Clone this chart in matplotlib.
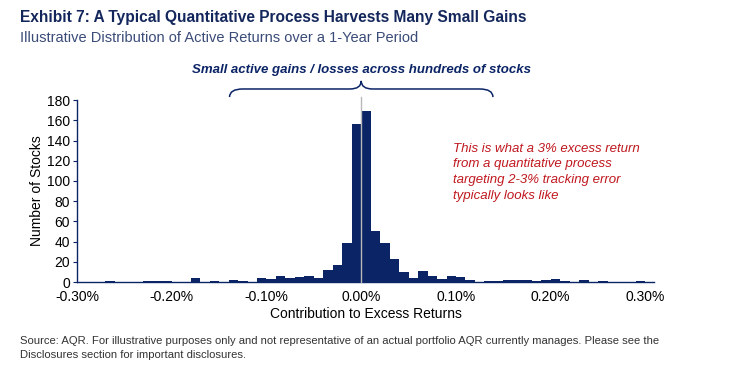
import numpy as np
import matplotlib
matplotlib.use("Agg")
import matplotlib.pyplot as plt
from matplotlib.path import Path
from matplotlib.patches import PathPatch

# histogram bins: 0.01% wide, from -0.30% to 0.30%
bin_width = 0.01
bin_left = np.round(np.arange(-0.30, 0.30, bin_width), 2)

counts_neg = [0, 0, 0, 1, 0, 0, 0, 1, 1, 1,
              0, 0, 4, 0, 1, 0, 2, 1, 0, 4,
              3, 6, 4, 5, 6, 4, 12, 17, 39, 156]
counts_pos = [169, 50, 39, 23, 10, 4, 11, 6, 3, 6,
              5, 2, 0, 1, 1, 2, 2, 2, 1, 2,
              3, 1, 0, 2, 0, 1, 0, 0, 0, 1]
counts = counts_neg + counts_pos

x_ticks = [-0.30, -0.20, -0.10, 0.00, 0.10, 0.20, 0.30]
y_ticks = list(range(0, 181, 20))

navy = '#0b2466'
title_col = '#14275c'
sub_col = '#3a4b78'
red = '#c0181f'

plt.rcParams['font.family'] = ['Liberation Sans', 'DejaVu Sans']

fig = plt.figure(figsize=(7.36, 3.66), dpi=100)
ax = fig.add_axes([0.1046, 0.2295, 0.784, 0.497])

ax.bar(bin_left, counts, width=bin_width, align='edge', color=navy, linewidth=0)
ax.plot([0, 0], [0, 183], color='#b8b8b8', lw=1, clip_on=False, zorder=3)

ax.set_xlim(-0.30, 0.309)
ax.set_ylim(0, 180)
ax.set_xticks(x_ticks)
ax.set_xticklabels(['{:.2f}%'.format(v) for v in x_ticks])
ax.set_yticks(y_ticks)
ax.tick_params(axis='x', length=0, labelsize=10, pad=6)
ax.tick_params(axis='y', length=3, color=navy, labelsize=10, pad=2)
for s in ['top', 'right']:
    ax.spines[s].set_visible(False)
for s in ['left', 'bottom']:
    ax.spines[s].set_color(navy)
    ax.spines[s].set_linewidth(1)

ax.set_xlabel('Contribution to Excess Returns', fontsize=10, labelpad=2)
ax.set_ylabel('Number of Stocks', fontsize=10, labelpad=2)

# curly brace over the centre of the distribution
verts = [(-0.139, 183), (-0.139, 191), (-0.125, 191),
         (-0.012, 191), (0.0, 191), (0.0, 199),
         (0.0, 191), (0.012, 191),
         (0.125, 191), (0.139, 191), (0.139, 183)]
codes = [Path.MOVETO, Path.CURVE3, Path.CURVE3,
         Path.LINETO, Path.CURVE3, Path.CURVE3,
         Path.CURVE3, Path.CURVE3,
         Path.LINETO, Path.CURVE3, Path.CURVE3]
ax.add_patch(PathPatch(Path(verts, codes), facecolor='none', edgecolor=navy,
                       lw=1.1, clip_on=False))
ax.text(0.0, 210, 'Small active gains / losses across hundreds of stocks',
        ha='center', va='center', fontsize=9.55, fontweight='bold',
        fontstyle='italic', color=navy, clip_on=False)

ax.text(0.097, 138, 'This is what a 3% excess return\nfrom a quantitative process\n'
        'targeting 2-3% tracking error\ntypically looks like',
        ha='left', va='top', fontsize=9.5, fontstyle='italic', color=red,
        linespacing=1.42)

fig.text(0.027, 0.951, 'Exhibit 7: A Typical Quantitative Process Harvests Many Small Gains',
         fontsize=11.2, fontweight='bold', color=title_col, va='center')
fig.text(0.027, 0.896, 'Illustrative Distribution of Active Returns over a 1-Year Period',
         fontsize=10.5, color=sub_col, va='center')
fig.text(0.027, 0.05, 'Source: AQR. For illustrative purposes only and not representative of an '
         'actual portfolio AQR currently manages. Please see the\nDisclosures section for '
         'important disclosures.',
         fontsize=8.15, color='#333333', va='center', linespacing=1.45)

fig.savefig('out.png', dpi=100)
